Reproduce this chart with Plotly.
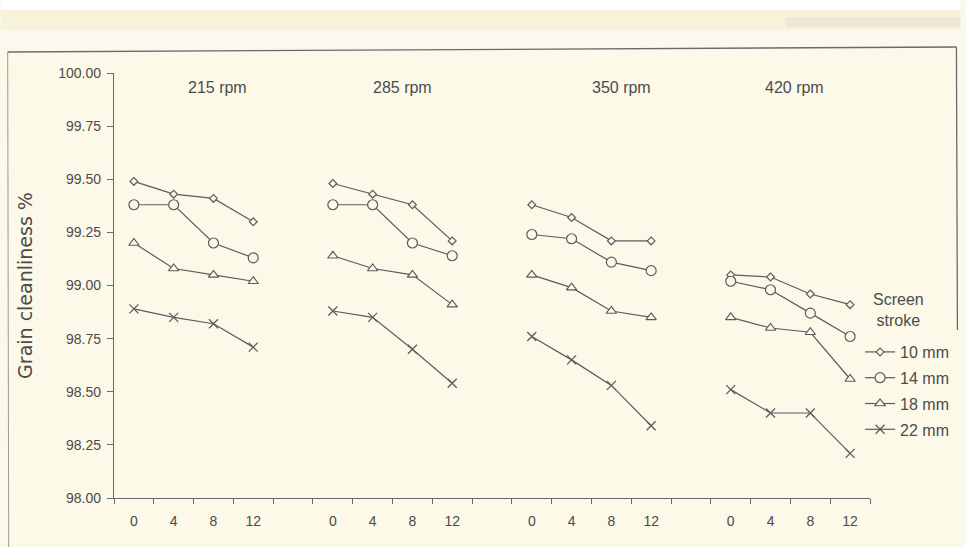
import plotly.graph_objects as go

# Grain cleanliness (%) by sieve speed, screen stroke and setting level
speeds = ["215 rpm", "285 rpm", "350 rpm", "420 rpm"]
levels = [0, 4, 8, 12]
stroke_labels = ["10 mm", "14 mm", "18 mm", "22 mm"]

clean_10mm = [99.49, 99.43, 99.41, 99.30,
              99.48, 99.43, 99.38, 99.21,
              99.38, 99.32, 99.21, 99.21,
              99.05, 99.04, 98.96, 98.91]
clean_14mm = [99.38, 99.38, 99.20, 99.13,
              99.38, 99.38, 99.20, 99.14,
              99.24, 99.22, 99.11, 99.07,
              99.02, 98.98, 98.87, 98.76]
clean_18mm = [99.20, 99.08, 99.05, 99.02,
              99.14, 99.08, 99.05, 98.91,
              99.05, 98.99, 98.88, 98.85,
              98.85, 98.80, 98.78, 98.56]
clean_22mm = [98.89, 98.85, 98.82, 98.71,
              98.88, 98.85, 98.70, 98.54,
              98.76, 98.65, 98.53, 98.34,
              98.51, 98.40, 98.40, 98.21]

series = [clean_10mm, clean_14mm, clean_18mm, clean_22mm]

BG = "#fcf9e8"
INK = "#4b4b4b"
LINE = "#5c5c5c"
FONT = "Liberation Sans, Arial, sans-serif"

n_lv = len(levels)
slot = n_lv + 1  # one empty slot between speed groups
n_slots = slot * len(speeds) - 1

# x positions per group, with None to break the line between groups
def group_xy(vals):
    xs, ys = [], []
    for g in range(len(speeds)):
        for i in range(n_lv):
            xs.append(g * slot + i)
            ys.append(vals[g * n_lv + i])
        xs.append(None)
        ys.append(None)
    return xs, ys

markers = [
    dict(symbol="diamond", size=6, color=BG, line=dict(color=LINE, width=1.2)),
    dict(symbol="circle", size=10, color=BG, line=dict(color=LINE, width=1.2)),
    dict(symbol="triangle-up", size=9, color=BG, line=dict(color=LINE, width=1.2)),
    dict(symbol="x-thin", size=9, color=LINE, line=dict(color=LINE, width=1.3)),
]

fig = go.Figure()
for k, (vals, lab) in enumerate(zip(series, stroke_labels)):
    xs, ys = group_xy(vals)
    fig.add_trace(go.Scatter(
        x=xs, y=ys, mode="lines+markers", name=lab,
        legendgroup=lab, connectgaps=False,
        line=dict(color=LINE, width=1.2),
        marker=markers[k],
    ))

# speed labels above each group
title_pos = [2.1, 6.75, 12.25, 16.6]
for name, xp in zip(speeds, title_pos):
    fig.add_annotation(x=xp, y=99.93, text=name, showarrow=False,
                       xref="x", yref="y",
                       font=dict(family=FONT, size=16, color=INK))

tick_pos = [g * slot + i for g in range(len(speeds)) for i in range(n_lv)]
tick_txt = [str(v) for _ in speeds for v in levels]

# page layout helpers (pixel -> paper)
L, R, T, B = 114, 875, 73, 498
def px(x):
    return (x - L) / (R - L)
def py(y):
    return (B - y) / (B - T)

# legend heading, centred above the legend entries
fig.add_annotation(x=px(904), y=py(310), xref="paper", yref="paper",
                   xanchor="center", yanchor="middle",
                   text="Screen<br>stroke", showarrow=False, align="center",
                   font=dict(family=FONT, size=16, color=INK))

shapes = [
    dict(type="rect", xref="paper", yref="paper", x0=px(0), x1=px(966),
         y0=py(0), y1=py(10), fillcolor="#ffffff", line_width=0, layer="below"),
    dict(type="rect", xref="paper", yref="paper", x0=px(0), x1=px(966),
         y0=py(10), y1=py(30), fillcolor="#f7f2da", line_width=0, layer="below"),
    dict(type="rect", xref="paper", yref="paper", x0=px(0), x1=px(966),
         y0=py(30), y1=py(50), fillcolor="#fbf9ef", line_width=0, layer="below"),
    dict(type="rect", xref="paper", yref="paper", x0=px(790), x1=px(966),
         y0=py(17), y1=py(27), fillcolor="#d9d8cf", opacity=0.35, line_width=0, layer="below"),
    dict(type="line", xref="paper", yref="paper", x0=px(7), y0=py(52),
         x1=px(962), y1=py(47), line=dict(color="#6a6a6a", width=1.3)),
    dict(type="line", xref="paper", yref="paper", x0=px(962), y0=py(47),
         x1=px(963), y1=py(330), line=dict(color="#6a6a6a", width=1.3)),
    dict(type="line", xref="paper", yref="paper", x0=px(7), y0=py(52),
         x1=px(8), y1=py(547), line=dict(color="#9a9a9a", width=1)),
]

fig.update_layout(
    width=966, height=547,
    margin=dict(l=L, r=966 - R, t=T, b=547 - B),
    paper_bgcolor=BG, plot_bgcolor=BG,
    font=dict(family=FONT, color=INK, size=12),
    shapes=shapes,
    showlegend=True,
    legend=dict(
        x=px(865), xanchor="left", y=py(335), yanchor="top",
        bgcolor="rgba(0,0,0,0)", borderwidth=0,
        font=dict(family=FONT, size=16, color=INK),
        tracegroupgap=2, itemwidth=30,
    ),
    xaxis=dict(
        range=[-0.5, n_slots - 0.5],
        tickmode="array", tickvals=tick_pos, ticktext=tick_txt,
        ticks="", showgrid=False, zeroline=False,
        showline=True, linecolor="#6a6a6a", linewidth=1.3,
        tickfont=dict(family=FONT, size=14, color=INK),
        ticklabelstandoff=10,
        minor=dict(tickmode="linear", tick0=-0.5, dtick=1, ticks="outside",
                   ticklen=5, tickcolor="#6a6a6a", tickwidth=1.2, showgrid=False),
    ),
    yaxis=dict(
        range=[98.0, 100.0], dtick=0.25, tick0=98.0, tickformat=".2f",
        ticks="outside", ticklen=6, tickcolor="#6a6a6a", tickwidth=1.2,
        showgrid=False, zeroline=False,
        showline=True, linecolor="#6a6a6a", linewidth=1.3,
        tickfont=dict(family=FONT, size=14, color=INK),
        ticklabelstandoff=3,
        title=dict(text="Grain cleanliness %", standoff=20,
                   font=dict(family="DejaVu Sans, sans-serif", size=19, color=INK)),
    ),
)

fig.write_html("out.html")
